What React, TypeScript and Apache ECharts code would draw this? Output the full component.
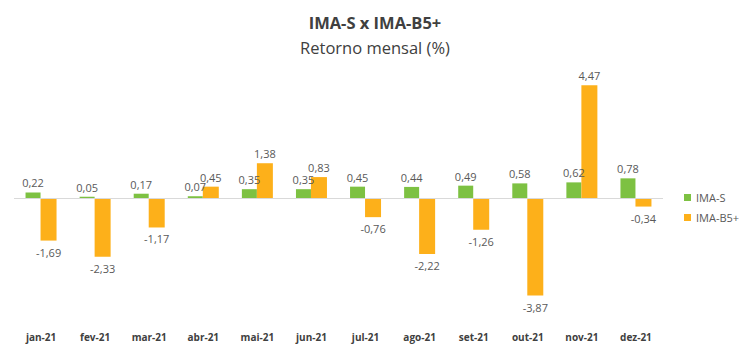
import React, { useEffect, useRef } from "react";
import * as echarts from "echarts";

const categories = ["jan-21", "fev-21", "mar-21", "abr-21", "mai-21", "jun-21", "jul-21", "ago-21", "set-21", "out-21", "nov-21", "dez-21"];
const imaS = [0.22, 0.05, 0.17, 0.07, 0.35, 0.35, 0.45, 0.44, 0.49, 0.58, 0.62, 0.78];
const imaB5 = [-1.69, -2.33, -1.17, 0.45, 1.38, 0.83, -0.76, -2.22, -1.26, -3.87, 4.47, -0.34];
const seriesNames = ["IMA-S", "IMA-B5+"];
const titleText = "IMA-S x IMA-B5+";
const subtitleText = "Retorno mensal (%)";

const FONT = "'Open Sans', sans-serif";
const LABEL_COLOR = "#595959";

function toData(values: number[]) {
  return values.map((v) => ({
    value: v,
    label: { position: v < 0 ? "bottom" : "top", distance: v < 0 ? 6 : 4 },
  }));
}

export default function App() {
  const ref = useRef<HTMLDivElement>(null);
  useEffect(() => {
    document.body.style.margin = "0";
    if (!ref.current) return;
    const chart = echarts.init(ref.current, undefined, { renderer: "svg" });
    const label = {
      show: true,
      color: LABEL_COLOR,
      fontSize: 11,
      fontFamily: FONT,
      formatter: (p: any) => Number(p.value).toFixed(2).replace(".", ","),
    };
    chart.setOption({
      animation: false,
      title: [
        {
          text: titleText,
          left: "center",
          top: 9,
          textStyle: { fontFamily: FONT, fontSize: 16.5, fontWeight: "bold", color: "#404040" },
        },
        {
          text: subtitleText,
          left: "center",
          top: 34,
          textStyle: { fontFamily: FONT, fontSize: 16.5, fontWeight: "normal", color: "#404040" },
        },
      ],
      legend: {
        orient: "vertical",
        left: 679,
        top: 187,
        itemWidth: 7,
        itemHeight: 7,
        itemGap: 9,
        icon: "rect",
        textStyle: { color: LABEL_COLOR, fontSize: 11, fontFamily: FONT },
        data: seriesNames,
      },
      grid: { left: 14, right: 87, top: 72, bottom: 32, containLabel: false },
      xAxis: {
        type: "category",
        data: categories,
        axisLine: { show: false, onZero: false },
        axisTick: { show: false },
        axisLabel: { color: "#404040", fontSize: 10, fontWeight: "bold", fontFamily: FONT, margin: 8 },
      },
      yAxis: {
        type: "value",
        min: -5,
        max: 5,
        show: false,
        splitLine: { show: false },
      },
      series: [
        {
          name: seriesNames[0],
          type: "bar",
          data: toData(imaS),
          barWidth: 15,
          barGap: "0%",
          itemStyle: { color: "#7DC142" },
          label,
          markLine: {
            silent: true,
            symbol: "none",
            label: { show: false },
            lineStyle: { color: "#D9D9D9", width: 1, type: "solid" },
            data: [{ yAxis: 0 }],
          },
        },
        {
          name: seriesNames[1],
          type: "bar",
          data: toData(imaB5),
          barWidth: 16,
          barGap: "0%",
          itemStyle: { color: "#FDB01A" },
          label,
        },
      ],
    });
    return () => chart.dispose();
  }, []);
  return <div ref={ref} style={{ width: 750, height: 356 }} />;
}
